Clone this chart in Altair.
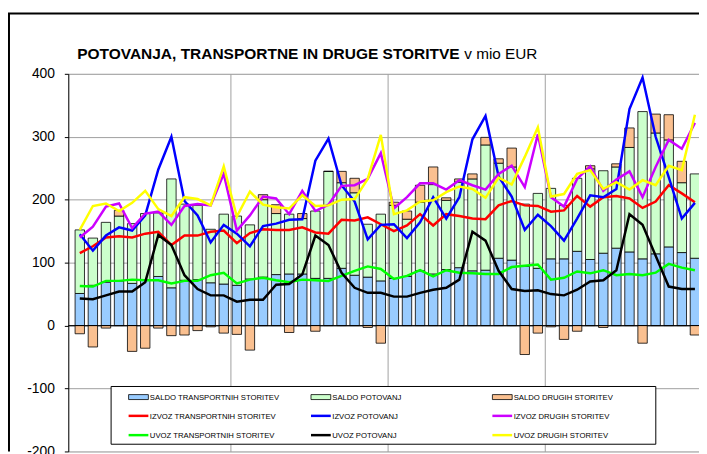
import altair as alt
import pandas as pd

FONT = "Liberation Sans"

months = list(range(48))
year_ticks = [12, 24, 36]
y_ticks = [-200, -100, 0, 100, 200, 300, 400]

bar_names = ["SALDO TRANSPORTNIH STORITEV", "SALDO POTOVANJ", "SALDO DRUGIH STORITEV"]
bar_colors = ["#99CCFF", "#CCFFCC", "#FAC090"]
line_names = ["IZVOZ TRANSPORTNIH STORITEV", "IZVOZ POTOVANJ", "IZVOZ DRUGIH STORITEV",
              "UVOZ TRANSPORTNIH STORITEV", "UVOZ POTOVANJ", "UVOZ DRUGIH STORITEV"]
line_colors = ["#FF0000", "#0000FF", "#CC00FF", "#00FF00", "#000000", "#FFFF00"]

saldo_transport = [51, 64, 69, 71, 67, 73, 78, 60, 72, 73, 68, 66,
                   64, 74, 77, 81, 82, 82, 75, 75, 91, 80, 77, 71,
                   75, 78, 87, 82, 89, 92, 87, 88, 107, 104, 94, 91,
                   106, 106, 118, 105, 115, 123, 117, 106, 114, 125, 116, 107]
saldo_potovanj = [101, 75, 95, 103, 95, 105, 101, 173, 121, 118, 85, 111,
                  110, 86, 123, 97, 95, 88, 107, 170, 136, 131, 84, 106,
                  116, 91, 109, 142, 110, 136, 146, 199, 151, 148, 99, 119,
                  112, 85, 116, 144, 131, 129, 166, 234, 192, 170, 111, 134]
saldo_drugih = [-13, -34, -4, 9, -41, -36, -4, -16, -15, -8, -2, -12,
                -14, -39, 8, 14, -11, 8, -9, 0, 18, 23, -3, -28,
                5, 13, 27, 28, 4, 5, 8, 12, 7, 30, -46, -12,
                -2, -22, -9, 5, -3, 5, 31, -28, 30, 40, 34, -15]

izvoz_transport = [115, 126, 140, 142, 140, 146, 149, 128, 143, 143, 149, 151,
                   131, 147, 153, 152, 152, 156, 148, 146, 168, 167, 172, 161,
                   150, 159, 177, 159, 177, 174, 170, 169, 191, 198, 191, 190,
                   181, 183, 206, 189, 204, 206, 202, 187, 197, 223, 210, 196]
izvoz_potovanj = [145, 119, 143, 156, 151, 175, 248, 300, 198, 175, 132, 160,
                  146, 126, 158, 162, 168, 169, 262, 297, 223, 197, 137, 160,
                  161, 139, 164, 204, 170, 204, 296, 333, 237, 205, 152, 176,
                  158, 135, 170, 207, 204, 217, 344, 394, 300, 236, 170, 195]
izvoz_drugih = [140, 157, 189, 194, 155, 178, 181, 160, 190, 193, 191, 241,
                151, 175, 205, 202, 177, 214, 182, 192, 222, 223, 233, 274,
                186, 204, 226, 226, 216, 231, 223, 216, 241, 254, 220, 304,
                204, 189, 233, 253, 214, 232, 245, 204, 252, 295, 281, 322]
uvoz_transport = [63, 62, 71, 71, 73, 72, 72, 67, 71, 71, 80, 84,
                  67, 73, 76, 72, 69, 73, 72, 71, 79, 87, 94, 90,
                  74, 79, 88, 78, 88, 84, 83, 82, 82, 93, 95, 97,
                  73, 76, 86, 83, 88, 80, 82, 80, 84, 98, 92, 88]
uvoz_potovanj = [43, 42, 48, 54, 54, 69, 144, 128, 80, 58, 48, 48,
                 38, 41, 41, 65, 66, 81, 143, 128, 84, 60, 52, 52,
                 46, 46, 52, 57, 60, 73, 149, 135, 87, 58, 55, 56,
                 50, 48, 57, 70, 72, 88, 177, 160, 111, 62, 58, 58]
uvoz_drugih = [152, 190, 194, 182, 195, 214, 185, 174, 204, 201, 191, 253,
               173, 213, 192, 188, 186, 207, 190, 191, 200, 201, 233, 303,
               177, 183, 197, 199, 212, 221, 217, 203, 235, 224, 268, 315,
               205, 209, 241, 247, 217, 228, 216, 231, 223, 254, 247, 335]

bar_arrays = [saldo_transport, saldo_potovanj, saldo_drugih]
line_arrays = [izvoz_transport, izvoz_potovanj, izvoz_drugih,
               uvoz_transport, uvoz_potovanj, uvoz_drugih]

title_bold = "POTOVANJA, TRANSPORTNE IN DRUGE STORITVE"
title_rest = "v mio EUR"

# ---------------------------------------------------------------- layout
W, H = 638, 382
SLOT = 13.45
GRID = "#A0A0A0"

xscale = alt.Scale(domain=[0, W / SLOT], nice=False, zero=False)
yscale = alt.Scale(domain=[-200, 400], nice=False, zero=False)

x_axis = alt.Axis(values=year_ticks, grid=True, gridColor=GRID, gridWidth=1,
                  labels=False, ticks=False, domain=False, title=None)
y_axis = alt.Axis(values=y_ticks, grid=True, gridColor=GRID, gridWidth=1,
                  domainColor="#000000", domainWidth=1, tickColor="#000000",
                  tickSize=4, labelFont=FONT, labelFontSize=14, labelColor="#000000",
                  labelPadding=10, labelOverlap=False, labelFlush=False, title=None,
                  labelExpr="datum.value < 0 ? '-' + abs(datum.value) : '' + datum.value")

bar_rows = []
for m in months:
    for k, (name, arr) in enumerate(zip(bar_names, bar_arrays)):
        bar_rows.append({"m": m, "series": name, "ord": k, "value": arr[m]})
bars_df = pd.DataFrame(bar_rows)

line_rows = []
for name, arr in zip(line_names, line_arrays):
    for m in months:
        line_rows.append({"m": m, "series": name, "value": arr[m]})
lines_df = pd.DataFrame(line_rows)

bars = alt.Chart(bars_df).transform_calculate(xc="datum.m + 0.5").mark_bar(
    size=9.5, stroke="#000000", strokeWidth=0.8, clip=True
).encode(
    x=alt.X("xc:Q", scale=xscale, axis=x_axis),
    y=alt.Y("value:Q", scale=yscale, stack="zero", axis=y_axis),
    fill=alt.Fill("series:N", scale=alt.Scale(domain=bar_names, range=bar_colors), legend=None),
    order=alt.Order("ord:Q"),
)

zero = alt.Chart(pd.DataFrame({"v": [0]})).mark_rule(color="#000000", strokeWidth=1).encode(
    y=alt.Y("v:Q", scale=yscale, axis=y_axis)
)

lines = alt.Chart(lines_df).transform_calculate(xc="datum.m + 0.5").mark_line(
    strokeWidth=2.5, clip=True
).encode(
    x=alt.X("xc:Q", scale=xscale, axis=x_axis),
    y=alt.Y("value:Q", scale=yscale, axis=y_axis),
    color=alt.Color("series:N", scale=alt.Scale(domain=line_names, range=line_colors), legend=None),
)

one = pd.DataFrame({"a": [0]})
deco = []

# outer frame (left and top edges of the original chart border)
deco.append(alt.Chart(one).mark_rule(color="#000000", strokeWidth=2).encode(
    x=alt.value(-60), y=alt.value(-61), y2=alt.value(H)))
deco.append(alt.Chart(one).mark_rule(color="#000000", strokeWidth=2).encode(
    x=alt.value(-61), x2=alt.value(W), y=alt.value(-61)))

# title
deco.append(alt.Chart(one).mark_text(
    text=title_bold, font=FONT, fontSize=15.65, fontWeight="bold", color="#000000",
    align="left", baseline="alphabetic").encode(x=alt.value(9), y=alt.value(-15.3)))
deco.append(alt.Chart(one).mark_text(
    text=title_rest, font=FONT, fontSize=15.5, color="#000000",
    align="left", baseline="alphabetic").encode(x=alt.value(400.5), y=alt.value(-15.3)))

# legend box
deco.append(alt.Chart(one).mark_rect(fill="#FFFFFF", stroke="#000000", strokeWidth=1).encode(
    x=alt.value(43.3), x2=alt.value(594.3), y=alt.value(316.3), y2=alt.value(374.7)))

col_x = [61, 245.5, 429]
row_y = [327, 346, 365.5]
legend_names = bar_names + line_names
legend_colors = bar_colors + line_colors
for i, (name, col) in enumerate(zip(legend_names, legend_colors)):
    cx = col_x[i % 3]
    cy = row_y[i // 3]
    if i < 3:
        deco.append(alt.Chart(one).mark_rect(fill=col, stroke="#000000", strokeWidth=0.8).encode(
            x=alt.value(cx), x2=alt.value(cx + 20), y=alt.value(cy - 2.5), y2=alt.value(cy + 2.5)))
    else:
        deco.append(alt.Chart(one).mark_rule(color=col, strokeWidth=2.5).encode(
            x=alt.value(cx), x2=alt.value(cx + 20), y=alt.value(cy)))
    deco.append(alt.Chart(one).mark_text(
        text=name, font=FONT, fontSize=7.8, color="#000000",
        align="left", baseline="alphabetic").encode(x=alt.value(cx + 21.5), y=alt.value(cy + 2.8)))

chart = alt.layer(bars, zero, lines, *deco).properties(
    width=W, height=H,
    autosize=alt.AutoSizeParams(type="none"),
    padding={"left": 61, "top": 64, "right": 0, "bottom": 0},
).configure_view(stroke=None).configure(background="#FFFFFF")

chart.save("out.html", embed_options={"renderer": "svg", "actions": False})
